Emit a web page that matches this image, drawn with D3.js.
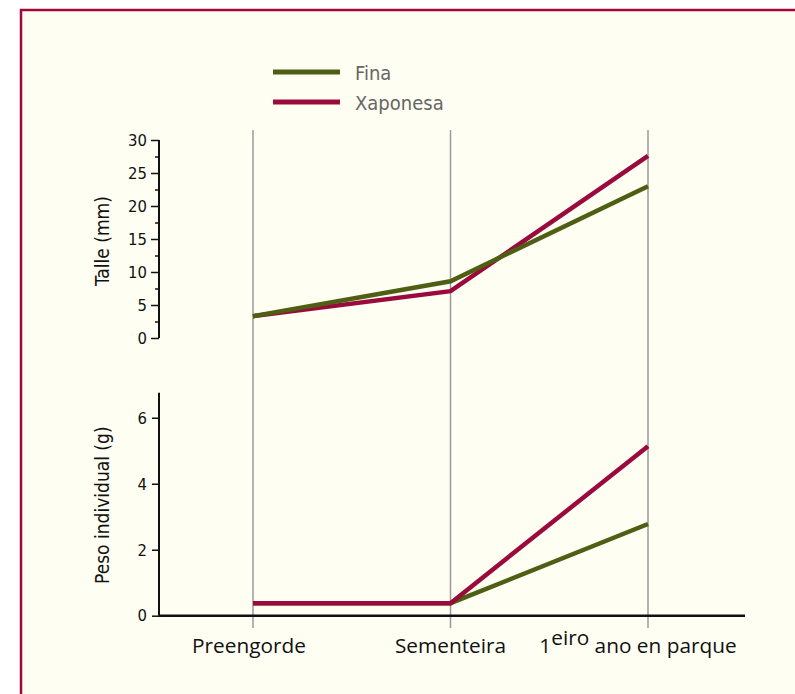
<!DOCTYPE html>
<html><head><meta charset="utf-8">
<script src="https://cdn.jsdelivr.net/npm/d3@7"></script>
<style>html,body{margin:0;padding:0;background:#fff;}svg{display:block;}</style>
</head><body>
<svg id="c" width="795" height="694"></svg>
<script>
const categories = ["Preengorde", "Sementeira", "1eiro ano en parque"];
const seriesNames = ["Fina", "Xaponesa"];
const talleFina = [3.3, 8.6, 23.0];
const talleXaponesa = [3.3, 7.1, 27.6];
const pesoFina = [0.38, 0.38, 2.78];
const pesoXaponesa = [0.38, 0.38, 5.14];
const talleTicks = [0, 5, 10, 15, 20, 25, 30];
const talleMinor = [2.5, 7.5, 12.5, 17.5, 22.5, 27.5];
const pesoTicks = [0, 2, 4, 6];
const colors = {Fina: "#4e5f14", Xaponesa: "#9b0a3d"};

const svg = d3.select("#c");
const condensed = "'DejaVu Sans Condensed','DejaVu Sans',sans-serif";
const sans = "'Open Sans','Noto Sans',sans-serif";

// frame
svg.append("rect").attr("x", 21).attr("y", 10).attr("width", 800).attr("height", 720)
  .attr("fill", "#fefef3").attr("stroke", "#a0083c").attr("stroke-width", 2.5);

const x = d3.scalePoint().domain(categories).range([253, 648]);
const yT = d3.scaleLinear().domain([0, 30]).range([338, 140]);
const yP = d3.scaleLinear().domain([0, 6.76]).range([615.7, 392.7]);
const axisX = 159;

// gridlines
svg.selectAll(".grid").data(categories).join("line")
  .attr("x1", d => x(d)).attr("x2", d => x(d)).attr("y1", 130).attr("y2", 628)
  .attr("stroke", "#9a9a9a").attr("stroke-width", 1.5);

// top axis
const gT = svg.append("g").attr("transform", `translate(${axisX},0)`);
gT.call(d3.axisLeft(yT).tickValues(talleTicks).tickSize(8).tickPadding(4).tickFormat(d3.format("d")));
gT.append("g").call(d3.axisLeft(yT).tickValues(talleMinor).tickSize(4).tickFormat(""));
gT.selectAll(".domain").remove();
gT.append("line").attr("y1", yT(30)).attr("y2", yT(0)).attr("stroke", "#111").attr("stroke-width", 2);
gT.selectAll(".tick line").attr("stroke", "#111").attr("stroke-width", 1.5);
gT.selectAll(".tick text").attr("font-family", condensed).attr("font-size", 16.5).attr("fill", "#111");

// bottom axis
const gP = svg.append("g").attr("transform", `translate(${axisX},0)`);
gP.call(d3.axisLeft(yP).tickValues(pesoTicks).tickSize(7).tickPadding(5).tickFormat(d3.format("d")));
gP.selectAll(".domain").remove();
gP.append("line").attr("y1", yP(6.76)).attr("y2", yP(0)).attr("stroke", "#111").attr("stroke-width", 2);
gP.selectAll(".tick line").attr("stroke", "#111").attr("stroke-width", 1.5);
gP.selectAll(".tick text").attr("font-family", condensed).attr("font-size", 16.5).attr("fill", "#111");

// x axis line
svg.append("line").attr("x1", axisX).attr("x2", 745).attr("y1", yP(0)).attr("y2", yP(0))
  .attr("stroke", "#111").attr("stroke-width", 2.5);

// axis titles
svg.append("text").attr("transform", `translate(109,${(yT(0)+yT(30))/2+2}) rotate(-90)`)
  .attr("text-anchor", "middle").attr("font-family", condensed).attr("font-size", 19).attr("fill", "#111")
  .text("Talle (mm)");
svg.append("text").attr("transform", `translate(109,${(yP(0)+yP(6.76))/2+1}) rotate(-90)`)
  .attr("text-anchor", "middle").attr("font-family", condensed).attr("font-size", 19).attr("fill", "#111")
  .text("Peso individual (g)");

// category labels
const labelY = 653;
const catSize = 20.8;
svg.append("text").attr("x", x(categories[0]) - 4).attr("y", labelY).attr("text-anchor", "middle")
  .attr("font-family", sans).attr("font-size", catSize).attr("fill", "#111").text(categories[0]);
svg.append("text").attr("x", x(categories[1])).attr("y", labelY).attr("text-anchor", "middle")
  .attr("font-family", sans).attr("font-size", catSize).attr("fill", "#111").text(categories[1]);
const t3 = svg.append("text").attr("x", x(categories[2]) - 10).attr("y", labelY).attr("text-anchor", "middle")
  .attr("font-family", sans).attr("font-size", catSize).attr("fill", "#111");
t3.append("tspan").text("1");
t3.append("tspan").attr("dy", -8).text("eiro");
t3.append("tspan").attr("dy", 8).text(" ano en parque");

// lines
const line = (ys) => d3.line().x((d, i) => x(categories[i])).y(d => ys(d));
function draw(vals, ys, name) {
  svg.append("path").datum(vals).attr("d", line(ys)).attr("fill", "none")
    .attr("stroke", colors[name]).attr("stroke-width", 4.5).attr("stroke-linejoin", "miter");
}
draw(talleXaponesa, yT, "Xaponesa");
draw(talleFina, yT, "Fina");
draw(pesoFina, yP, "Fina");
draw(pesoXaponesa, yP, "Xaponesa");

// legend
const leg = svg.append("g");
seriesNames.forEach((n, i) => {
  const yy = 72 + i * 30;
  leg.append("line").attr("x1", 273).attr("x2", 340).attr("y1", yy).attr("y2", yy)
    .attr("stroke", colors[n]).attr("stroke-width", 5);
  leg.append("text").attr("x", 355).attr("y", yy + 8).attr("font-family", condensed)
    .attr("font-size", 20).attr("fill", "#666").text(n);
});
</script>
</body></html>
